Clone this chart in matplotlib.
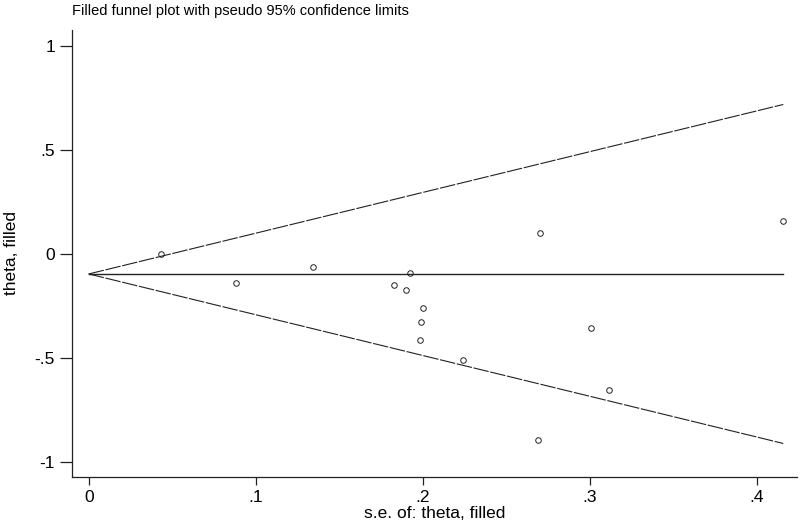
import numpy as np
import matplotlib.pyplot as plt

plt.rcParams['font.family'] = ['Liberation Sans', 'DejaVu Sans']

# study standard errors and effect estimates
se = [0.0434, 0.088, 0.134, 0.1828, 0.1898, 0.1924, 0.2002, 0.199, 0.198,
      0.224, 0.2702, 0.269, 0.3006, 0.3116, 0.4153]
theta = [0.0, -0.139, -0.061, -0.149, -0.175, -0.093, -0.261, -0.328, -0.415,
         -0.510, 0.102, -0.893, -0.354, -0.654, 0.159]

theta_pooled = -0.096
se_max = 0.4157

x_ticks = [0, 0.1, 0.2, 0.3, 0.4]
x_tick_labels = ['0', '.1', '.2', '.3', '.4']
y_ticks = [-1, -0.5, 0, 0.5, 1]
y_tick_labels = ['-1', '-.5', '0', '.5', '1']

fig = plt.figure(figsize=(8, 5.25), dpi=100)
ax = fig.add_axes([0.0904, 0.0914, 0.906, 0.8516])

# pseudo 95% confidence limits
se_line = np.array([0, se_max])
ax.plot(se_line, theta_pooled + 1.96 * se_line, color='#222222', lw=0.8,
        dashes=(14, 1.5))
ax.plot(se_line, theta_pooled - 1.96 * se_line, color='#222222', lw=0.8,
        dashes=(14, 1.5))
ax.plot(se_line, [theta_pooled, theta_pooled], color='#222222', lw=1.0)

ax.plot(se, theta, 'o', mfc='none', mec='#222222', ms=4, mew=0.7)

ax.set_xlim(-0.0098, 0.424)
ax.set_ylim(-1.072, 1.077)
ax.set_xticks(x_ticks)
ax.set_xticklabels(x_tick_labels)
ax.set_yticks(y_ticks)
ax.set_yticklabels(y_tick_labels)

for s in ['top', 'right']:
    ax.spines[s].set_visible(False)
for s in ['left', 'bottom']:
    ax.spines[s].set_linewidth(0.9)
    ax.spines[s].set_color('#222222')

ax.tick_params(axis='y', length=8.5, width=0.9, pad=4, labelsize=12.5,
               color='#222222')
ax.tick_params(axis='x', length=6, width=0.9, pad=3, labelsize=12.5,
               color='#222222')

ax.set_xlabel('s.e. of: theta, filled', fontsize=12.5, labelpad=1)
ax.set_ylabel('theta, filled', fontsize=12.5, labelpad=11)

fig.text(0.0904, 1 - 15 / 525, 'Filled funnel plot with pseudo 95% confidence limits',
         fontsize=10.5, va='baseline', ha='left')

fig.savefig('out.png', dpi=100)
